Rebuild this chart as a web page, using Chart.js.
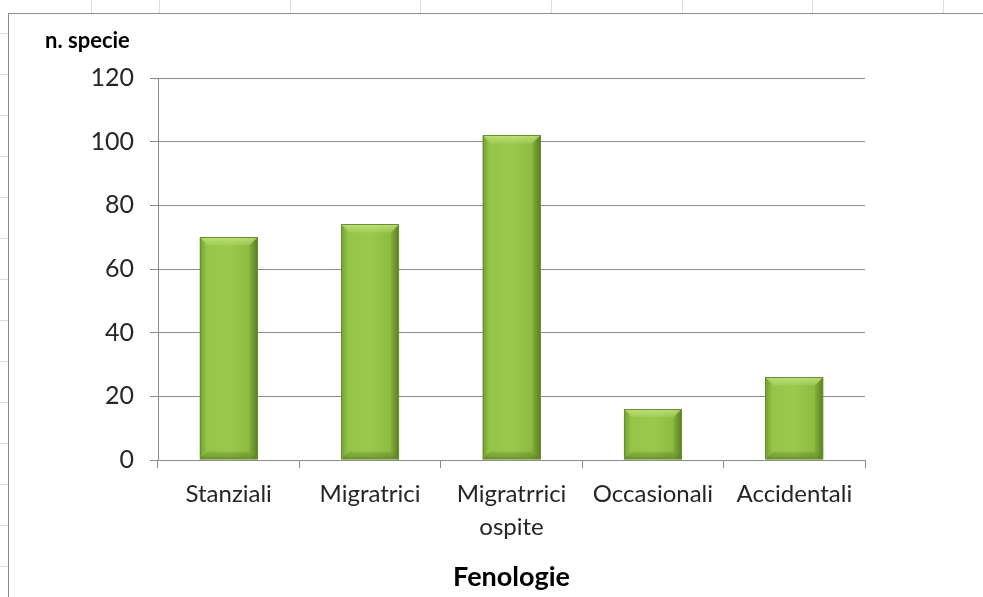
<!DOCTYPE html>
<html>
<head>
<meta charset="utf-8">
<script src="https://cdn.jsdelivr.net/npm/chart.js@4"></script>
<style>
  html, body { margin: 0; padding: 0; background: #fff; }
  body { width: 983px; height: 597px; position: relative; overflow: hidden; }
  /* spreadsheet cell lines around the chart object */
  .colmarks {
    position: absolute; left: 0; top: 0; width: 983px; height: 13px;
    background: repeating-linear-gradient(to right, transparent 0 29px, #d6dde9 29px 30px, transparent 30px 130.7px);
    background-position: 130px 0;
  }
  .rowmarks {
    position: absolute; left: 0; top: 0; width: 8px; height: 597px;
    background: repeating-linear-gradient(to bottom, transparent 0 40px, #d6dde9 40px 41px);
    background-position: 0 -7px;
  }
  .frame {
    position: absolute; left: 8px; top: 13px; width: 990px; height: 600px;
    border-left: 1px solid #8c8c8c; border-top: 1px solid #8c8c8c;
    background: #fff;
  }
  .frame canvas { position: absolute; left: 0; top: 0; }
</style>
</head>
<body>
<div class="colmarks"></div>
<div class="rowmarks"></div>
<div class="frame">
  <canvas id="barChart" width="974" height="583"></canvas>
</div>
<script>
const categories = ['Stanziali', 'Migratrici', ['Migratrrici', 'ospite'], 'Occasionali', 'Accidentali'];
const speciesCount = [70, 74, 102, 16, 26];
const yTicks = [0, 20, 40, 60, 80, 100, 120];

const FONT = 'Lato, "Open Sans", sans-serif';
const BAR_PCT = 0.41;

// horizontal gradient across each bar, like the Excel bevelled column
function barFill(context) {
    const chart = context.chart;
    if (!chart.chartArea) return '#94c447';
    const x = chart.scales.x.getPixelForValue(context.dataIndex);
    const half = (chart.chartArea.width / categories.length) * BAR_PCT / 2;
    const g = chart.ctx.createLinearGradient(x - half, 0, x + half, 0);
    g.addColorStop(0, '#739e30');
    g.addColorStop(0.12, '#94c548');
    g.addColorStop(0.5, '#9bc94d');
    g.addColorStop(0.88, '#8aba3f');
    g.addColorStop(1, '#5f8624');
    return g;
}

// bevel edges drawn on top of every bar
const bevel = {
    id: 'bevel',
    afterDatasetsDraw(chart) {
        const ctx = chart.ctx;
        const b = 8;
        chart.getDatasetMeta(0).data.forEach(bar => {
            const l = bar.x - bar.width / 2, r = bar.x + bar.width / 2;
            const t = bar.y, bt = bar.base;
            ctx.save();
            // top face
            const tg = ctx.createLinearGradient(0, t, 0, t + b);
            tg.addColorStop(0, 'rgba(205,235,140,0.75)');
            tg.addColorStop(1, 'rgba(180,220,110,0.35)');
            ctx.fillStyle = tg;
            ctx.beginPath();
            ctx.moveTo(l, t); ctx.lineTo(r, t); ctx.lineTo(r - b, t + b); ctx.lineTo(l + b, t + b);
            ctx.closePath(); ctx.fill();
            // bottom face
            const bg = ctx.createLinearGradient(0, bt - b, 0, bt);
            bg.addColorStop(0, 'rgba(60,90,15,0.15)');
            bg.addColorStop(1, 'rgba(60,90,15,0.45)');
            ctx.fillStyle = bg;
            ctx.beginPath();
            ctx.moveTo(l, bt); ctx.lineTo(r, bt); ctx.lineTo(r - b, bt - b); ctx.lineTo(l + b, bt - b);
            ctx.closePath(); ctx.fill();
            // right face
            ctx.fillStyle = 'rgba(60,90,15,0.18)';
            ctx.beginPath();
            ctx.moveTo(r, t); ctx.lineTo(r, bt); ctx.lineTo(r - b, bt - b); ctx.lineTo(r - b, t + b);
            ctx.closePath(); ctx.fill();
            // outline
            ctx.strokeStyle = '#6b8f2e';
            ctx.lineWidth = 1;
            ctx.strokeRect(Math.round(l) + 0.5, Math.round(t) + 0.5, Math.round(r - l) - 1, Math.round(bt - t) - 1);
            ctx.restore();
        });
    }
};

// "n. specie" label above the value axis
const yLabel = {
    id: 'yLabel',
    afterDraw(chart) {
        const ctx = chart.ctx;
        ctx.save();
        ctx.font = 'bold 22px ' + FONT;
        ctx.fillStyle = '#000';
        ctx.textBaseline = 'middle';
        ctx.fillText('n. specie', 36, 27);
        ctx.restore();
    }
};

new Chart(document.getElementById('barChart'), {
    type: 'bar',
    data: {
        labels: categories,
        datasets: [{
            label: 'n. specie',
            data: speciesCount,
            backgroundColor: barFill,
            borderWidth: 0,
            categoryPercentage: 1,
            barPercentage: BAR_PCT
        }]
    },
    options: {
        responsive: false,
        animation: false,
        layout: { padding: { left: 0, right: 118, top: 64, bottom: 0 } },
        plugins: {
            legend: { display: false },
            tooltip: { enabled: false }
        },
        scales: {
            y: {
                min: 0,
                max: 120,
                afterBuildTicks: axis => { axis.ticks = yTicks.map(v => ({ value: v })); },
                afterFit: axis => { axis.width = 149; },
                grid: { color: '#8a8a8a', lineWidth: 1, tickLength: 8 },
                border: { color: '#8a8a8a' },
                ticks: { padding: 16, color: '#262626', font: { family: FONT, size: 25 } }
            },
            x: {
                afterFit: axis => { axis.height = 137; },
                grid: { drawOnChartArea: false, color: '#8a8a8a', tickLength: 8 },
                border: { color: '#8a8a8a' },
                ticks: { padding: 9, color: '#262626', maxRotation: 0, font: { family: FONT, size: 24, lineHeight: 1.4 } },
                title: {
                    display: true,
                    text: 'Fenologie',
                    color: '#000',
                    font: { family: FONT, size: 27, weight: 'bold' },
                    padding: { top: 0, bottom: 4 }
                }
            }
        }
    },
    plugins: [bevel, yLabel]
});
</script>
</body>
</html>
